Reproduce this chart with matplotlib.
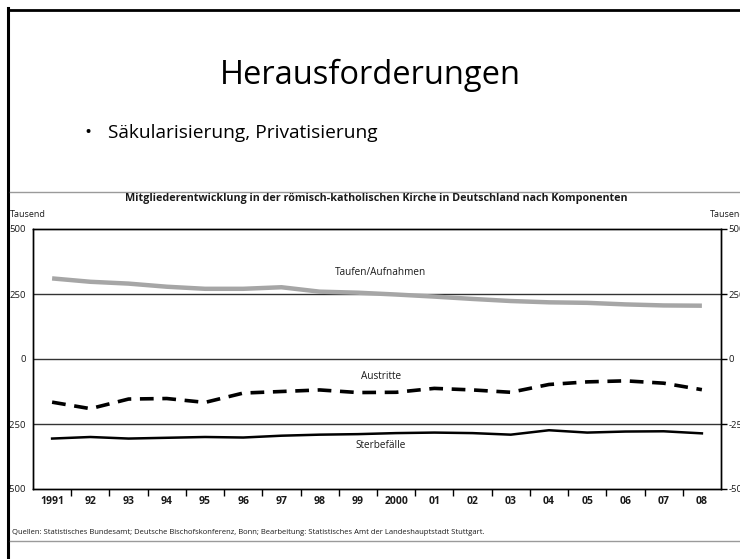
import matplotlib.pyplot as plt
from matplotlib.lines import Line2D

# ------------------------------------------------------------
# Data (Tausend)
# ------------------------------------------------------------
years = ["1991", "92", "93", "94", "95", "96", "97", "98", "99",
         "2000", "01", "02", "03", "04", "05", "06", "07", "08"]
taufen = [310, 297, 290, 278, 270, 270, 276, 259, 255,
          248, 240, 231, 223, 218, 216, 210, 206, 205]
austritte = [-166, -191, -154, -152, -167, -131, -125, -119, -129,
             -128, -113, -119, -128, -98, -88, -84, -93, -118]
sterbefaelle = [-306, -300, -306, -303, -300, -302, -295, -291, -289,
                -285, -283, -285, -291, -274, -283, -279, -278, -286]
yticks = [500, 250, 0, -250, -500]
ytick_labels = ["500", "250", "0", "-250", "-500"]

W, H = 740, 559
fig = plt.figure(figsize=(W / 100, H / 100), dpi=100)
plt.rcParams['font.family'] = ['Open Sans', 'DejaVu Sans']

txt = "#1a1a1a"

# ------------------------------------------------------------
# Slide frame and slide text
# ------------------------------------------------------------
fig.add_artist(Line2D([8 / W, 8 / W], [0, 1 - 8 / H], color="black", lw=2.2,
                      transform=fig.transFigure, solid_capstyle="projecting"))
fig.add_artist(Line2D([8 / W, 1], [1 - 9.5 / H, 1 - 9.5 / H], color="black", lw=2.0,
                      transform=fig.transFigure))
fig.text(370 / W, 1 - 75 / H, "Herausforderungen", ha="center", va="center",
         fontsize=23.5, color="black")
fig.text(84 / W, 1 - 133 / H, "•", ha="left", va="center", fontsize=13.5, color="black")
fig.text(108 / W, 1 - 133 / H, "Säkularisierung, Privatisierung", ha="left", va="center",
         fontsize=13.8, color="black")

# chart picture borders
fig.add_artist(Line2D([10 / W, 1], [1 - 192 / H, 1 - 192 / H], color="#9a9a9a", lw=1.0,
                      transform=fig.transFigure))
fig.add_artist(Line2D([10 / W, 1], [1 - 541 / H, 1 - 541 / H], color="#9a9a9a", lw=1.0,
                      transform=fig.transFigure))

# ------------------------------------------------------------
# Chart
# ------------------------------------------------------------
ax = fig.add_axes([33 / W, (H - 489) / H, (721 - 33) / W, 260 / H])
x = list(range(len(years)))

for v in [250, 0, -250]:
    ax.axhline(v, color="#333333", lw=1.0, zorder=1)

ax.plot(x, taufen, color="#a6a6a6", lw=3.2, solid_capstyle="butt", zorder=3)
ax.plot(x, austritte, color="black", lw=2.6, dashes=(3.8, 2.4), zorder=3)
ax.plot(x, sterbefaelle, color="black", lw=1.8, zorder=3)

ax.text(8.6, 333, "Taufen/Aufnahmen", ha="center", va="center", fontsize=7.2, color=txt)
ax.text(8.6, -69, "Austritte", ha="center", va="center", fontsize=7.2, color=txt)
ax.text(8.6, -333, "Sterbefälle", ha="center", va="center", fontsize=7.2, color=txt)

ax.set_xlim(-0.5, len(years) - 0.5)
ax.set_ylim(-500, 500)

ax.set_xticks(x)
ax.set_xticklabels(years, fontsize=7.5, fontweight="bold", color=txt)
ax.set_xticks([i + 0.5 for i in range(len(years) - 1)], minor=True)
ax.tick_params(axis="x", which="major", length=0, pad=5)
ax.tick_params(axis="x", which="minor", length=5, width=1, direction="out", color="black")

ax.set_yticks(yticks)
ax.set_yticklabels(ytick_labels, fontsize=6.8, color=txt)
ax.tick_params(axis="y", length=0, pad=5, labelleft=True)

ax2 = ax.twinx()
ax2.set_ylim(-500, 500)
ax2.set_yticks(yticks)
ax2.set_yticklabels(ytick_labels, fontsize=6.8, color=txt)
ax2.tick_params(axis="y", length=4, width=1, direction="out", pad=1.5, color="black")

for a in (ax, ax2):
    for s in a.spines.values():
        s.set_linewidth(1.0)
        s.set_color("black")

fig.text(10 / W, 1 - 214 / H, "Tausend", ha="left", va="center", fontsize=6.5, color=txt)
fig.text(710 / W, 1 - 214 / H, "Tausend", ha="left", va="center", fontsize=6.5, color=txt)

fig.text(376 / W, 1 - 199 / H,
         "Mitgliederentwicklung in der römisch-katholischen Kirche in Deutschland nach Komponenten",
         ha="center", va="center", fontsize=7.75, fontweight="bold", color=txt)
fig.text(12 / W, 1 - 532 / H,
         "Quellen: Statistisches Bundesamt; Deutsche Bischofskonferenz, Bonn; "
         "Bearbeitung: Statistisches Amt der Landeshauptstadt Stuttgart.",
         ha="left", va="center", fontsize=5.5, color=txt)

fig.savefig("out.png", dpi=100)
